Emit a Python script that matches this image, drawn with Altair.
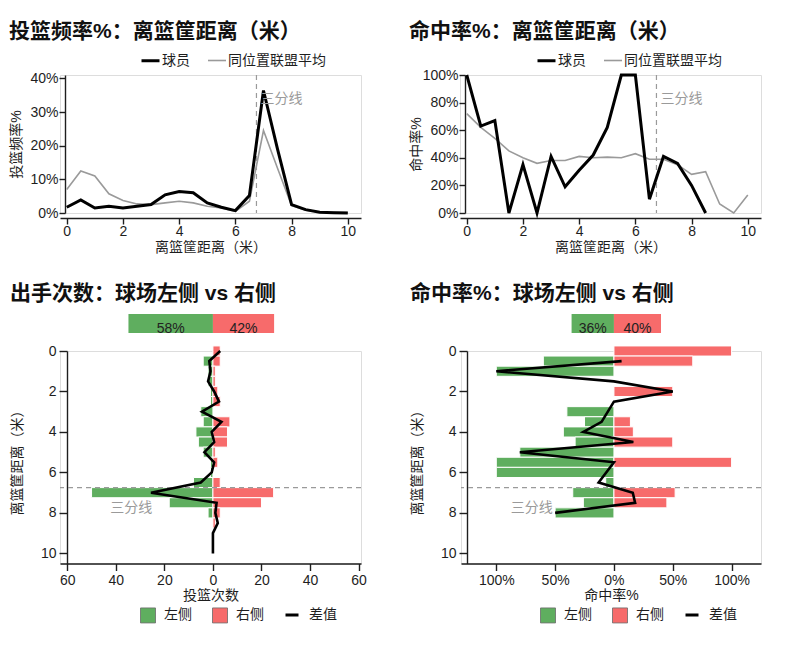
import altair as alt
import pandas as pd

# ---------------- data ----------------
dist = [i * 0.5 for i in range(21)]  # 0 .. 10 m
three_pt = 6.75

series_names = ["球员", "同位置联盟平均"]
side_names = ["左侧", "右侧"]
diff_name = "差值"

freq_player = [0.017, 0.039, 0.015, 0.020, 0.015, 0.020, 0.025, 0.054, 0.064, 0.060, 0.030,
               0.017, 0.007, 0.052, 0.364, 0.190, 0.025, 0.010, 0.002, 0.001, 0.000]
freq_league = [0.070, 0.125, 0.110, 0.057, 0.037, 0.027, 0.025, 0.030, 0.035, 0.030, 0.020,
               0.015, 0.005, 0.035, 0.245, 0.133, 0.022, 0.008, 0.003, 0.002, 0.001]

fg_player = [1.00, 0.63, 0.67, 0.00, 0.35, 0.00, 0.41, 0.19, 0.31, 0.42, 0.62,
             1.00, 1.00, 0.10, 0.41, 0.36, 0.20, 0.00, None, None, None]
fg_league = [0.72, 0.62, 0.54, 0.45, 0.40, 0.36, 0.38, 0.38, 0.41, 0.40, 0.405,
             0.40, 0.43, 0.39, 0.39, 0.35, 0.28, 0.30, 0.065, 0.00, 0.13]

shots_left = [0, 4, 2, 2, 1, 1, 5, 4, 7, 6, 4, 1, 1, 8, 50, 18, 2, 0, 0, 0, 0]
shots_right = [3, 3, 1, 1, 2, 3, 0, 7, 6, 6, 1, 2, 0, 3, 25, 20, 3, 1, 0, 0, 0]
shots_diff = [3, -1.5, -1, -2, 0.5, 2.5, -4.5, 3.5, -0.5, 0.5, -3.5,
              0.5, -0.5, -5, -25.5, 1.5, 1, 2, 0, 0, 0]
shots_share = [0.58, 0.42]

fgside_left = [0, 0.60, 1.00, 0, 0, 0, 0.40, 0.25, 0.43, 0.33, 0.80,
               1.00, 1.00, 0.07, 0.35, 0.26, 0.50, 0, 0, 0, 0]
fgside_right = [1.00, 0.67, 0, 0, 0.50, 0, 0, 0.14, 0.165, 0.50, 0,
                1.00, 0, 0, 0.52, 0.45, 0, 0, 0, 0, 0]
fgside_diff = [None, 0.065, -1.00, 0.0, 0.50, 0.0, None, -0.105, -0.26, 0.165, -0.80,
               0.0, None, -0.13, 0.16, 0.18, -0.50, None, None, None, None]
fgside_share = [0.36, 0.40]

# ---------------- style ----------------
FONT = "Liberation Sans, Noto Sans CJK SC, sans-serif"
INK = "#1e1e1e"
GRAY = "#9a9a9a"
GREEN = "#5fae5f"
RED = "#f76b6b"


def ax(**kw):
    p = dict(grid=False, domainColor=INK, domainWidth=1.4, tickColor=INK, tickWidth=1.4, tickSize=6,
             labelFont=FONT, labelFontSize=14, labelColor=INK, labelPadding=1,
             titleFont=FONT, titleFontSize=14, titleFontWeight="normal", titleColor=INK, titlePadding=0)
    p.update(kw)
    return alt.Axis(**p)


def ttl(text, offset):
    return alt.TitleParams(text=text, anchor="start", frame="bounds", font=FONT, fontSize=21,
                           fontWeight="bold", color="#111111", offset=offset)


def line_panel(title_text, player, league, ymax, yvals, ytitle, label_y, legend_x):
    W, H = 301, 138
    rows = []
    for s, vals in zip(series_names, [player, league]):
        for d, v in zip(dist, vals):
            if v is not None:
                rows.append({"d": d, "series": s, "v": v})
    df = pd.DataFrame(rows)
    X = alt.X("d:Q", scale=alt.Scale(domain=[-0.24, 10.47], nice=False, zero=False),
              axis=ax(values=[0, 2, 4, 6, 8, 10], title="离篮筐距离（米）", offset=5,
                      labelPadding=0, titlePadding=2))
    Y = alt.Y("v:Q", scale=alt.Scale(domain=[0, ymax], nice=False, zero=False),
              axis=ax(values=yvals, format=".0%", title=ytitle, offset=-5, titleX=-42, titleY=H / 2,
                      titleAlign="center", titleBaseline="bottom", titleAngle=270))
    leg = alt.Legend(title=None, orient="none", legendX=legend_x, legendY=-25, direction="horizontal",
                     symbolType="stroke", symbolSize=324, labelFont=FONT, labelFontSize=14,
                     labelColor=INK, labelOffset=1, columnPadding=14)
    color = alt.Color("series:N", scale=alt.Scale(domain=series_names, range=["#000000", GRAY]), legend=leg)
    sw = alt.StrokeWidth("series:N", scale=alt.Scale(type="ordinal", domain=series_names, range=[3, 1.6]),
                         legend=leg)
    base = alt.Chart(df).encode(x=X, y=Y, color=color, strokeWidth=sw)
    league_line = base.transform_filter(alt.datum.series == series_names[1]).mark_line()
    player_line = base.transform_filter(alt.datum.series == series_names[0]).mark_line()
    rule = alt.Chart(pd.DataFrame({"d": [three_pt]})).mark_rule(
        color=GRAY, strokeDash=[5, 4], strokeWidth=1.2).encode(x=X)
    txt = alt.Chart(pd.DataFrame({"d": [three_pt], "v": [label_y], "t": ["三分线"]})).mark_text(
        align="left", baseline="middle", dx=4, font=FONT, fontSize=14, color=GRAY
    ).encode(x=X, y=Y, text="t:N")
    return alt.layer(rule, league_line, player_line, txt).properties(
        width=W, height=H, title=ttl(title_text, 8))


def bar_panel(title_text, left, right, diff, share, xdom, xvals, label_expr, xtitle, share_scale,
              label_x, legend_x1, legend_x2, W, yoffset):
    H = 212.5
    rows = []
    for d, l, r in zip(dist, left, right):
        if l:
            rows.append({"d": d, "side": side_names[0], "x": -l})
        if r:
            rows.append({"d": d, "side": side_names[1], "x": r})
    bars = pd.DataFrame(rows)
    bars["zero"] = 0.0
    xs = alt.Scale(domain=xdom, nice=False, zero=False)
    ys = alt.Scale(domain=[0, 10.5], nice=False, zero=False, reverse=True)
    xaxis = ax(values=xvals, labelExpr=label_expr, title=xtitle, labelPadding=3, titlePadding=1, tickSize=7)
    yaxis = ax(values=[0, 2, 4, 6, 8, 10], title="离篮筐距离（米）", offset=yoffset, tickSize=8, labelPadding=3,
               titleX=-43, titleY=108, titleAlign="center", titleBaseline="bottom", titleAngle=270)
    bar_leg = alt.Legend(title=None, orient="none", legendX=legend_x1, legendY=256, direction="horizontal",
                         symbolType="square", symbolSize=225, symbolStrokeColor="#6a6a6a",
                         symbolStrokeWidth=0.8, labelFont=FONT, labelFontSize=14, labelColor=INK,
                         labelOffset=8, columnPadding=18)
    diff_leg = alt.Legend(title=None, orient="none", legendX=legend_x2, legendY=256, direction="horizontal",
                          symbolType="stroke", symbolSize=169, symbolStrokeWidth=3, labelFont=FONT,
                          labelFontSize=14, labelColor=INK, labelOffset=9)
    color = alt.Color("side:N", scale=alt.Scale(domain=side_names, range=[GREEN, RED]), legend=bar_leg)

    bar_layer = alt.Chart(bars).transform_calculate(
        y0="datum.d - 0.25", y1="datum.d + 0.25"
    ).mark_rect(stroke="white", strokeWidth=1).encode(
        x=alt.X("x:Q", scale=xs, axis=xaxis), x2="zero:Q",
        y=alt.Y("y0:Q", scale=ys, axis=yaxis), y2="y1:Q", color=color)

    sh = pd.DataFrame({"side": side_names,
                       "x": [-share[0] * share_scale, 0.0],
                       "x1": [0.0, share[1] * share_scale],
                       "t": [f"{round(p * 100)}%" for p in share]})
    share_rect = alt.Chart(sh).mark_rect().encode(
        x=alt.X("x:Q", scale=xs, axis=xaxis), x2="x1:Q",
        y=alt.value(-37), y2=alt.value(-18), color=color)
    share_txt = alt.Chart(sh).transform_calculate(xm="(datum.x + datum.x1) / 2").mark_text(
        baseline="alphabetic", font=FONT, fontSize=14, color="#222222"
    ).encode(x=alt.X("xm:Q", scale=xs, axis=xaxis), y=alt.value(-18.5), text="t:N")

    rule = alt.Chart(pd.DataFrame({"y0": [three_pt]})).mark_rule(
        color=GRAY, strokeDash=[5, 4], strokeWidth=1.2).encode(y=alt.Y("y0:Q", scale=ys, axis=yaxis))
    lab = alt.Chart(pd.DataFrame({"x": [label_x], "y0": [7.78], "t": ["三分线"]})).mark_text(
        align="right", baseline="middle", font=FONT, fontSize=14, color=GRAY
    ).encode(x=alt.X("x:Q", scale=xs, axis=xaxis), y=alt.Y("y0:Q", scale=ys, axis=yaxis), text="t:N")

    dl = pd.DataFrame([{"d": d, "x": v, "k": diff_name} for d, v in zip(dist, diff) if v is not None])
    diff_line = alt.Chart(dl).mark_line(strokeWidth=2.6).encode(
        x=alt.X("x:Q", scale=xs, axis=xaxis), y=alt.Y("d:Q", scale=ys, axis=yaxis),
        order=alt.Order("d:Q"),
        stroke=alt.Stroke("k:N", scale=alt.Scale(domain=[diff_name], range=["#000000"]), legend=diff_leg))

    return alt.layer(bar_layer, share_rect, share_txt, rule, lab, diff_line).properties(
        width=W, height=H, title=ttl(title_text, 10))


tl = line_panel("投篮频率%：离篮筐距离（米）", freq_player, freq_league, 0.41,
                [0, 0.1, 0.2, 0.3, 0.4], "投篮频率%", 0.339, 80)
tr = line_panel("命中率%：离篮筐距离（米）", fg_player, fg_league, 1.0,
                [0, 0.2, 0.4, 0.6, 0.8, 1.0], "命中率%", 0.826, 76)
bl = bar_panel("出手次数：球场左侧 vs 右侧", shots_left, shots_right, shots_diff, shots_share,
               [-63, 61], [-60, -40, -20, 0, 20, 40, 60], "'' + abs(datum.value)", "投篮次数", 60,
               -25, 80, 224, 301, -7)
br = bar_panel("命中率%：球场左侧 vs 右侧", fgside_left, fgside_right, fgside_diff, fgside_share,
               [-1.30, 1.25], [-1, -0.5, 0, 0.5, 1], "format(abs(datum.value), '.0%')", "命中率%", 1,
               -0.52, 79, 223, 300, -6)

RES = dict(color="independent", strokeWidth="independent", stroke="independent")

top = alt.hconcat(tl, tr, spacing=46).resolve_scale(**RES)
bottom = alt.hconcat(bl, br, spacing=42).resolve_scale(**RES)

chart = alt.vconcat(top, bottom, spacing=27).resolve_scale(**RES).configure_view(
    stroke=None).configure(font=FONT).properties(
    padding={"left": 0, "top": 12, "right": 5, "bottom": 5})

chart.save("out.html", embed_options={"renderer": "svg", "actions": False})
